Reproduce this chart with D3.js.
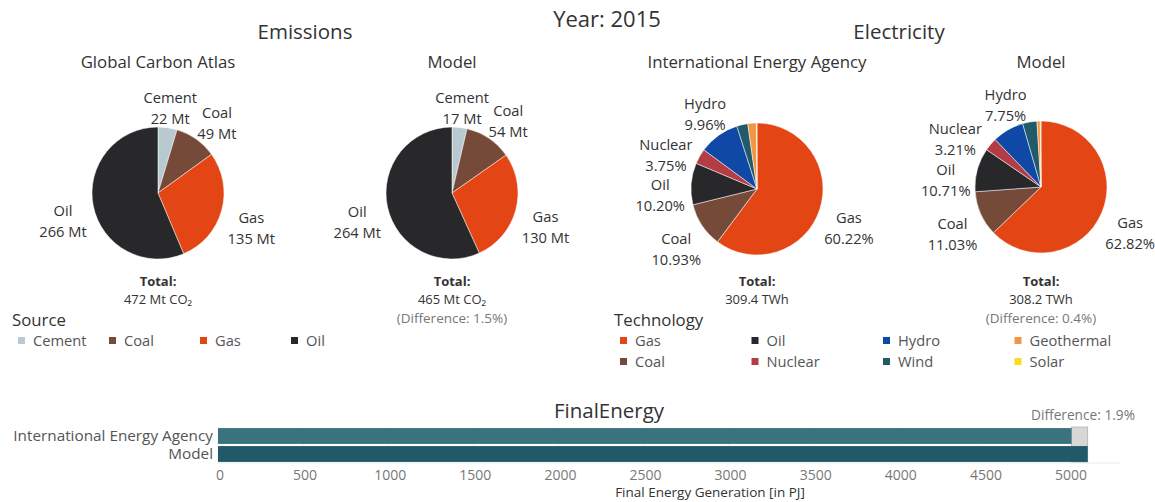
<!DOCTYPE html>
<html>
<head>
<meta charset="utf-8">
<script src="https://cdn.jsdelivr.net/npm/d3@7"></script>
<style>
  body { margin: 0; background: #fff; }
  svg { font-family: "Open Sans", Lato, sans-serif; }
</style>
</head>
<body>
<svg width="1155" height="502"></svg>
<script>
// emissions (Mt CO2)
const sources = ["Cement", "Coal", "Gas", "Oil"];
const gcaEmissions = [22, 49, 135, 266];
const modelEmissions = [17, 54, 130, 264];

// electricity shares (%)
const techs = ["Gas", "Coal", "Oil", "Nuclear", "Hydro", "Wind", "Geothermal", "Solar"];
const ieaShares = [60.22, 10.93, 10.20, 3.75, 9.96, 2.70, 2.10, 0.14];
const modelShares = [62.82, 11.03, 10.71, 3.21, 7.75, 3.50, 0.80, 0.18];
const labelledTechs = ["Gas", "Coal", "Oil", "Nuclear", "Hydro"];
const legendTechs = ["Gas", "Oil", "Hydro", "Geothermal", "Coal", "Nuclear", "Wind", "Solar"];

// final energy (PJ)
const feSources = ["International Energy Agency", "Model"];
const feValues = [5015, 5110];
const feTicks = [0, 500, 1000, 1500, 2000, 2500, 3000, 3500, 4000, 4500, 5000];

const color = d3.scaleOrdinal()
    .domain(["Cement", "Coal", "Gas", "Oil", "Nuclear", "Hydro", "Wind", "Geothermal", "Solar"])
    .range(["#b9c9d1", "#764a38", "#e34515", "#28282a", "#b43c45", "#1048a6", "#215a69", "#f19645", "#f8dd22"]);

const svg = d3.select("svg");
const ink = "#333";

// headings
svg.append("text").attr("x", 607).attr("y", 27).attr("text-anchor", "middle")
    .style("font-size", "22px").style("fill", ink).text("Year: 2015");
svg.append("text").attr("x", 305).attr("y", 39).attr("text-anchor", "middle")
    .style("font-size", "20.5px").style("fill", ink).text("Emissions");
svg.append("text").attr("x", 899).attr("y", 39).attr("text-anchor", "middle")
    .style("font-size", "20.5px").style("fill", ink).text("Electricity");

const pie = d3.pie().sort(null);
const r = 66;
const arc = d3.arc().innerRadius(0).outerRadius(r);

function drawPie(cx, cy, title, names, values, fmt, showLabel, totalText, diffText) {
    const g = svg.append("g").attr("transform", `translate(${cx},${cy})`);
    svg.append("text").attr("x", cx).attr("y", 68).attr("text-anchor", "middle")
        .style("font-size", "16.8px").style("fill", ink).text(title);

    const arcs = pie(values);
    g.selectAll("path").data(arcs).enter().append("path")
        .attr("d", arc)
        .attr("fill", (d, i) => color(names[i]))
        .attr("stroke", "#fff").attr("stroke-width", 0.5);

    // labels sit outside the slice mid-angle (box kept clear of the pie);
    // neighbours that overlap are rotated apart
    const h = 40;
    const labels = arcs.map((d, i) => ({
        name: names[i], value: d.value, a: (d.startAngle + d.endAngle) / 2,
        w: Math.max(names[i].length, fmt(d.value).length) * 8.3
    })).filter(l => showLabel(l.name));
    const pos = l => {
        const s = Math.sin(l.a), c = Math.cos(l.a);
        for (let e = 0; ; e += 1) {
            const px = (r + 6 + e + l.w / 2) * s;
            const py = -(r + 6 + e + h / 2) * c + 6 + 4 * Math.abs(s);
            // nearest point of the text box to the pie centre
            const nx = Math.max(Math.abs(px) - l.w / 2 + 4, 0);
            const ny = Math.max(Math.abs(py) - h / 2 + 4, 0);
            if (Math.hypot(nx, ny) >= r + 2 || e > 40) return { x: px, y: py };
        }
    };
    labels.sort((p, q) => p.a - q.a);
    for (let it = 0; it < 400; it++) {
        let moved = false;
        for (let i = 0; i < labels.length; i++) {
            const p = labels[i], q = labels[(i + 1) % labels.length];
            if (p === q) continue;
            const pp = pos(p), qq = pos(q);
            if (Math.abs(pp.x - qq.x) < (p.w + q.w) / 2 && Math.abs(pp.y - qq.y) < h) {
                p.a -= 0.01; q.a += 0.01; moved = true;
            }
        }
        if (!moved) break;
    }
    labels.forEach(l => Object.assign(l, pos(l)));
    const lg = g.selectAll("g.lab").data(labels).enter().append("g")
        .attr("transform", d => `translate(${d.x},${d.y})`);
    lg.append("text").attr("y", -5).attr("text-anchor", "middle")
        .style("font-size", "14.7px").style("fill", ink).text(d => d.name);
    lg.append("text").attr("y", 16).attr("text-anchor", "middle")
        .style("font-size", "14.7px").style("fill", ink).text(d => fmt(d.value));

    svg.append("text").attr("x", cx).attr("y", 286).attr("text-anchor", "middle")
        .style("font-size", "13px").style("font-weight", "bold").style("fill", ink).text("Total:");
    svg.append("text").attr("x", cx).attr("y", 304).attr("text-anchor", "middle")
        .style("font-size", "13px").style("fill", ink).text(totalText);
    if (diffText) {
        svg.append("text").attr("x", cx).attr("y", 323).attr("text-anchor", "middle")
            .style("font-size", "13.5px").style("fill", "#777").text(diffText);
    }
}

const sumG = d3.sum(gcaEmissions), sumM = d3.sum(modelEmissions);
const mt = v => Math.round(v) + " Mt";
const pct = v => v.toFixed(2) + "%";
drawPie(158, 193, "Global Carbon Atlas", sources, gcaEmissions, mt, () => true, `${sumG} Mt CO₂`, null);
drawPie(452, 193, "Model", sources, modelEmissions, mt, () => true, `${sumM} Mt CO₂`,
    `(Difference: ${(Math.abs(sumG - sumM) / sumG * 100).toFixed(1)}%)`);
drawPie(757, 189, "International Energy Agency", techs, ieaShares, pct, n => labelledTechs.includes(n), "309.4 TWh", null);
drawPie(1041, 187, "Model", techs, modelShares, pct, n => labelledTechs.includes(n), "308.2 TWh", "(Difference: 0.4%)");

// legends
svg.append("text").attr("x", 12).attr("y", 326).style("font-size", "16.8px").style("fill", ink).text("Source");
const srcLeg = svg.selectAll("g.src").data(sources).enter().append("g")
    .attr("transform", (d, i) => `translate(${18 + i * 91},341)`);
srcLeg.append("rect").attr("x", 0).attr("y", -4).attr("width", 7).attr("height", 7).attr("fill", d => color(d));
srcLeg.append("text").attr("x", 15).attr("y", 5).style("font-size", "14.7px").style("fill", "#555").text(d => d);

svg.append("text").attr("x", 614).attr("y", 326).style("font-size", "16.8px").style("fill", ink).text("Technology");
const techLeg = svg.selectAll("g.tech").data(legendTechs).enter().append("g")
    .attr("transform", (d, i) => `translate(${620 + (i % 4) * 131.5},${341 + Math.floor(i / 4) * 21})`);
techLeg.append("rect").attr("x", 0).attr("y", -4).attr("width", 7).attr("height", 7).attr("fill", d => color(d));
techLeg.append("text").attr("x", 15).attr("y", 5).style("font-size", "14.7px").style("fill", "#555").text(d => d);

// final energy bars
svg.append("text").attr("x", 609).attr("y", 418).attr("text-anchor", "middle")
    .style("font-size", "20.5px").style("fill", ink).text("FinalEnergy");

const x = d3.scaleLinear().domain([0, 5000]).range([218, 1069]);
const y = d3.scaleBand().domain(feSources).range([427, 463]).paddingInner(0.12).paddingOuter(0.06);

svg.selectAll("line.grid").data(feTicks).enter().append("line")
    .attr("x1", d => x(d)).attr("x2", d => x(d)).attr("y1", 427).attr("y2", 463)
    .attr("stroke", "#f0f0f0");
svg.append("line").attr("x1", 217).attr("x2", 1120).attr("y1", 463).attr("y2", 463).attr("stroke", "#ebebeb");

// difference band
svg.append("rect")
    .attr("x", x(feValues[0])).attr("y", 427)
    .attr("width", x(feValues[1]) - x(feValues[0])).attr("height", 35)
    .attr("fill", "#d7d7d7").attr("stroke", "#aaa").attr("stroke-width", 0.7);

svg.selectAll("rect.bar").data(feSources).enter().append("rect")
    .attr("x", x(0)).attr("y", d => y(d))
    .attr("width", (d, i) => x(feValues[i]) - x(0))
    .attr("height", y.bandwidth())
    .attr("fill", (d, i) => i === 0 ? "#3a727e" : "#225969");

svg.selectAll("text.cat").data(feSources).enter().append("text")
    .attr("x", 213).attr("y", d => y(d) + y.bandwidth() / 2 + 5)
    .attr("text-anchor", "end").style("font-size", "15.3px").style("fill", "#555").text(d => d);

svg.append("text").attr("x", 1083).attr("y", 420).attr("text-anchor", "middle")
    .style("font-size", "13.7px").style("fill", "#777")
    .text(`Difference: ${((feValues[1] - feValues[0]) / feValues[0] * 100).toFixed(1)}%`);

svg.selectAll("text.tick").data(feTicks).enter().append("text")
    .attr("x", d => x(d) + 2).attr("y", 480).attr("text-anchor", "middle")
    .style("font-size", "14px").style("fill", "#777").text(d => d);
svg.append("text").attr("x", 710).attr("y", 497).attr("text-anchor", "middle")
    .style("font-size", "13.5px").style("fill", ink).text("Final Energy Generation [in PJ]");
</script>
</body>
</html>
